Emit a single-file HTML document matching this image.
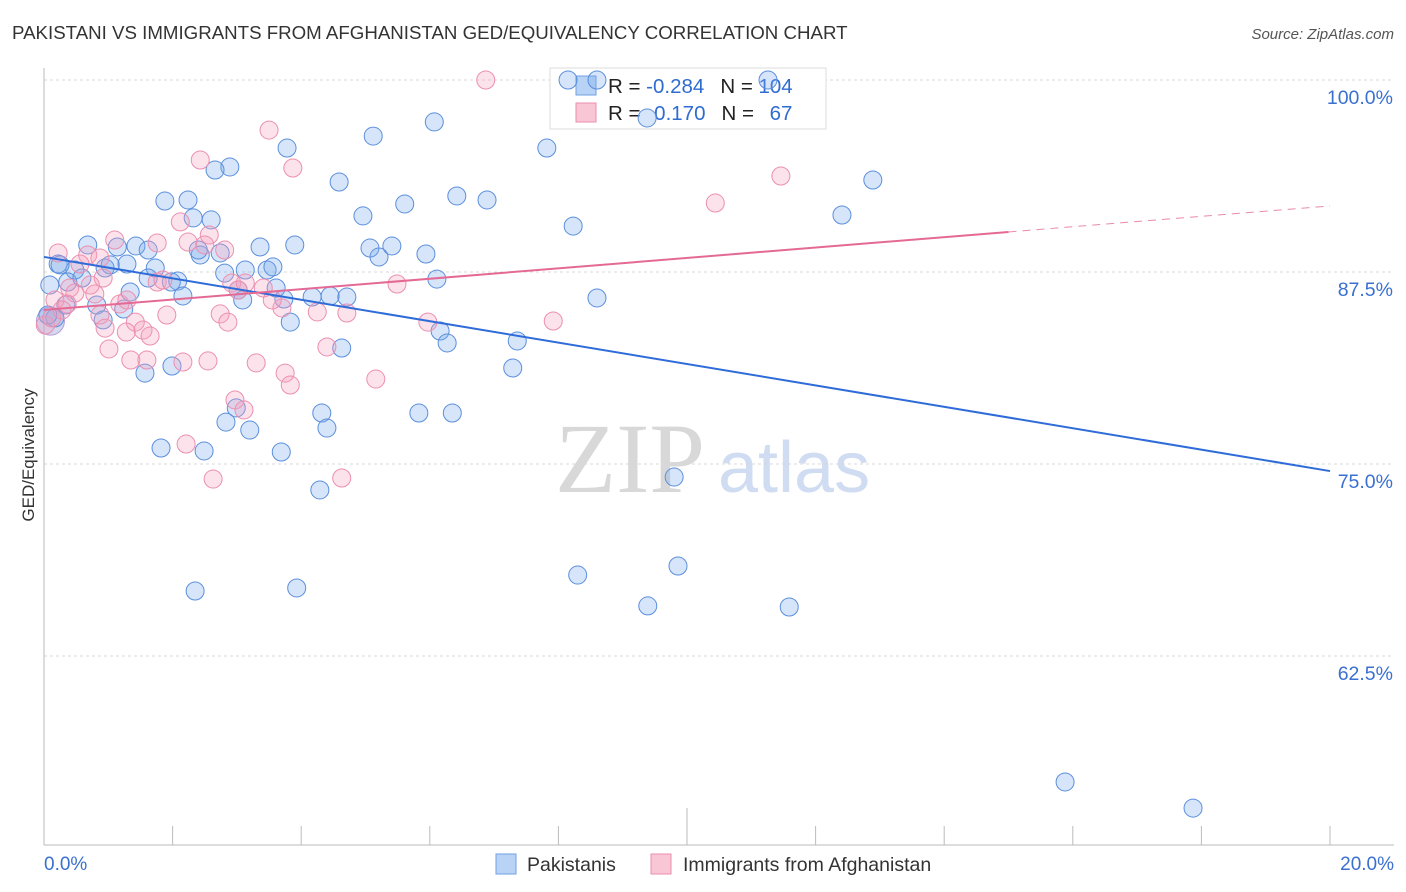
<!DOCTYPE html>
<html><head><meta charset="utf-8"><style>
body{margin:0;background:#fff;font-family:"Liberation Sans",sans-serif;}
#wrap{position:relative;width:1406px;height:892px;overflow:hidden;}
</style></head><body>
<div id="wrap">
<svg id="svg" width="1406" height="892" xmlns="http://www.w3.org/2000/svg">
<text x="12" y="39" font-size="18.7" fill="#333">PAKISTANI VS IMMIGRANTS FROM AFGHANISTAN GED/EQUIVALENCY CORRELATION CHART</text>
<text x="1394" y="39" font-size="15" fill="#555" font-style="italic" text-anchor="end">Source: ZipAtlas.com</text>
<text x="34" y="455" font-size="17" fill="#333" text-anchor="middle" transform="rotate(-90 34 455)">GED/Equivalency</text>
<text x="555" y="492" font-size="100" fill="#d8d8d8" font-family="Liberation Serif,serif">ZIP</text>
<text x="718" y="492" font-size="72" fill="#cfdcf2">atlas</text>
<g id="grid"></g><g id="axes"></g>
<g>
<rect x="550" y="68" width="276" height="61" fill="#fff" stroke="#ddd"/>
<rect x="576" y="76" width="20" height="19" fill="#b8d3f5" stroke="#6f9fe0"/>
<rect x="576" y="103" width="20" height="19" fill="#f9c6d6" stroke="#eb8fae"/>
<text x="608" y="93" font-size="20.5" fill="#222">R = <tspan fill="#2f6cd0">-0.284</tspan><tspan dx="16">N = </tspan><tspan fill="#2f6cd0">104</tspan></text>
<text x="608" y="120" font-size="20.5" fill="#222">R = <tspan fill="#2f6cd0" dx="8">0.170</tspan><tspan dx="16">N = </tspan><tspan fill="#2f6cd0" dx="10">67</tspan></text>
</g>
<g id="pts"></g><g id="trends"></g>
<g>
<rect x="496" y="854" width="20" height="20" fill="#b8d3f5" stroke="#6f9fe0"/>
<text x="527" y="871" font-size="19.5" fill="#333">Pakistanis</text>
<rect x="651" y="854" width="20" height="20" fill="#f9c6d6" stroke="#eb8fae"/>
<text x="683" y="871" font-size="19.5" fill="#333">Immigrants from Afghanistan</text>
</g>
</svg>
</div>
<script>
const yTicks=[100,87.5,75,62.5];
const yTickLabels=["100.0%","87.5%","75.0%","62.5%"];
const xTickVals=[0,2,4,6,8,10,12,14,16,18,20];
const blueX=[8.60,8.15,11.26,9.38,6.07,5.12,3.78,7.82,2.89,2.66,4.59,12.89,1.88,2.24,6.42,6.89,5.61,4.96,2.32,2.60,8.23,12.41,0.68,1.43,1.14,1.62,3.36,3.90,5.07,5.41,5.94,5.21,2.43,2.74,0.22,0.48,0.95,1.29,1.73,3.13,3.47,3.56,2.81,6.11,2.08,1.98,0.37,1.62,2.16,1.34,3.02,3.09,3.61,3.73,4.17,4.45,4.71,8.60,0.82,1.24,0.34,3.83,0.92,6.16,6.27,7.36,4.63,1.57,1.99,7.29,2.99,4.32,5.83,6.35,2.83,3.20,4.40,1.82,2.49,3.69,9.80,4.29,2.35,3.93,8.30,9.86,9.39,11.59,15.88,17.87,0.25,0.09,0.17,0.06,0.59,1.03,2.40];
const blueY=[100,100,100,97.53,97.27,96.35,95.57,95.57,94.34,94.14,93.36,93.49,92.12,92.19,92.45,92.19,91.93,91.15,91.02,90.89,90.49,91.21,89.26,89.19,89.13,88.93,89.13,89.26,89.06,89.19,88.67,88.48,88.61,88.74,88.02,87.63,87.76,88.02,87.76,87.63,87.63,87.83,87.43,87.04,86.91,86.85,86.85,87.11,85.94,86.20,86.33,85.68,86.46,85.74,85.87,85.94,85.87,85.81,85.35,85.09,85.35,84.24,84.38,83.66,82.88,83.01,82.55,80.92,81.38,81.25,78.65,78.32,78.32,78.32,77.73,77.21,77.34,76.04,75.85,75.78,74.15,73.31,66.73,66.93,67.77,68.36,65.76,65.69,54.30,52.60,87.96,86.65,84.51,84.70,87.11,87.96,88.93];
const pinkX=[6.87,3.50,2.43,3.87,11.46,10.44,2.12,2.24,2.57,2.81,0.22,0.68,1.10,1.76,2.50,0.87,0.56,0.40,0.79,0.92,1.18,1.29,1.76,1.85,2.92,3.13,3.41,3.02,5.49,0.48,0.17,0.36,0.87,1.42,1.91,2.74,2.86,3.70,4.25,4.71,5.97,7.92,0.95,1.28,1.54,1.65,1.01,1.35,1.60,2.16,2.55,3.30,3.75,3.83,4.40,5.16,2.97,3.11,2.21,2.63,4.63,0.02,0.12,0.28,0.72,3.55];
const pinkY=[100,96.74,94.79,94.27,93.75,91.99,90.76,89.45,89.91,88.93,88.74,88.61,89.58,89.39,89.26,88.41,88.02,86.46,86.07,87.11,85.42,85.68,86.85,86.98,86.78,86.78,86.46,86.33,86.72,86.13,85.68,85.42,84.70,84.24,84.70,84.77,84.24,85.16,84.90,84.83,84.24,84.31,83.85,83.59,83.72,83.33,82.49,81.77,81.77,81.64,81.71,81.58,80.92,80.14,82.62,80.53,79.17,78.52,76.30,74.02,74.09,84.05,84.51,85.03,86.65,85.68];
const blueTrend=[88.48,-0.697];
const pinkTrend=[85.03,0.3385];
const pinkSolidEnd=15;

const X=v=>44+v*64.3;
const Y=v=>80+(100-v)*15.36;
const NS="http://www.w3.org/2000/svg";
function mk(tag,attrs,parent){const e=document.createElementNS(NS,tag);for(const k in attrs)e.setAttribute(k,attrs[k]);document.getElementById(parent).appendChild(e);return e;}
yTicks.forEach((t,i)=>{
 const l=mk('line',{x1:44,x2:1394,y1:Y(t),y2:Y(t),stroke:'#d8d8d8','stroke-dasharray':'3,3'},'grid');
 
 
 const tx=mk('text',{x:1393,y:Y(t)+24,'font-size':19.5,fill:'#3a70d0','text-anchor':'end'},'grid');
 tx.textContent=yTickLabels[i];
 
 
});
const ax=mk('line',{x1:44,x2:1394,y1:845,y2:845,stroke:'#bbb'},'axes');


const ay=mk('line',{x1:44,x2:44,y1:68,y2:845,stroke:'#bbb'},'axes');


xTickVals.forEach((t,i)=>{
 const tk=mk('line',{x1:X(t),x2:X(t),y1:(i==5?808:826),y2:845,stroke:'#bbb'},'axes');
 
 
});
const xl0=mk('text',{x:44,y:870,'font-size':19,fill:'#3a70d0'},'axes');xl0.textContent='0.0%';


const xl1=mk('text',{x:1394,y:870,'font-size':19,fill:'#3a70d0','text-anchor':'end'},'axes');xl1.textContent='20.0%';


const bc=mk('circle',{cx:X(0.1),cy:Y(84.3),r:14,fill:'rgba(160,170,220,0.45)',stroke:'#b49ad8'},'pts');


blueX.forEach((v,i)=>{
 const c=mk('circle',{cx:X(v),cy:Y(blueY[i]),r:9,fill:'rgba(120,170,235,0.3)',stroke:'#5b8fdc','stroke-width':1},'pts');
 
 
});
pinkX.forEach((v,i)=>{
 const c=mk('circle',{cx:X(v),cy:Y(pinkY[i]),r:9,fill:'rgba(245,160,190,0.3)',stroke:'#ec8fb0','stroke-width':1},'pts');
 
 
});
const bt=mk('line',{x1:X(0),y1:Y(blueTrend[0]),x2:X(20),y2:Y(blueTrend[0]+20*blueTrend[1]),stroke:'#2f6cd8','stroke-width':2},'trends');


const pt=mk('line',{x1:X(0),y1:Y(pinkTrend[0]),x2:X(pinkSolidEnd),y2:Y(pinkTrend[0]+pinkSolidEnd*pinkTrend[1]),stroke:'#e46a95','stroke-width':2},'trends');


const pd=mk('line',{x1:X(pinkSolidEnd),y1:Y(pinkTrend[0]+pinkSolidEnd*pinkTrend[1]),x2:X(20),y2:Y(pinkTrend[0]+20*pinkTrend[1]),stroke:'#e88aab','stroke-width':1,'stroke-dasharray':'8,6'},'trends');


</script>
</body></html>
